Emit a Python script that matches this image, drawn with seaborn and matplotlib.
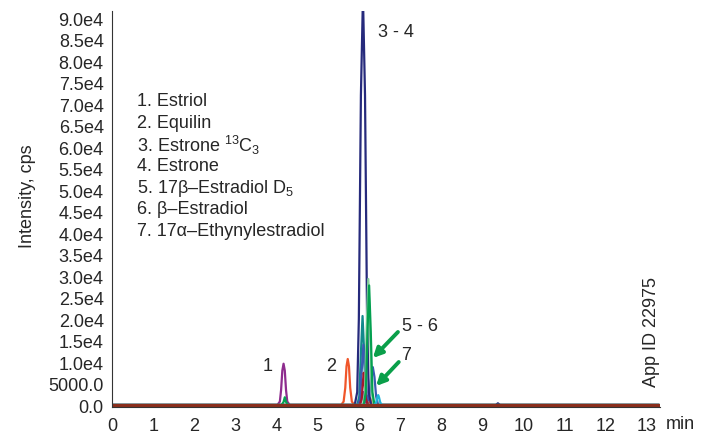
import pandas as pd
import matplotlib
matplotlib.use("Agg")
import matplotlib.pyplot as plt
import seaborn as sns

# chromatogram traces (time in min, intensity in cps)
estriol_t = [0.0, 4.02, 4.08, 4.11, 4.14, 4.17, 4.20, 4.23, 4.26, 4.32, 6.02, 6.07, 6.11, 6.15, 6.20, 13.3]
estriol_i = [0, 0, 800, 3500, 8000, 9600, 8000, 3500, 800, 0, 0, 1200, 3000, 1200, 0, 0]

equilin_t = [0.0, 5.57, 5.63, 5.67, 5.70, 5.73, 5.76, 5.79, 5.83, 5.89, 6.20, 6.25, 6.28, 6.31, 6.36, 13.3]
equilin_i = [0, 0, 800, 4000, 9000, 10700, 9000, 4000, 800, 0, 0, 600, 1500, 600, 0, 0]

teal_t = [0.0, 5.96, 6.01, 6.05, 6.09, 6.13, 6.17, 6.22, 13.3]
teal_i = [0, 0, 2000, 12000, 20700, 12000, 2000, 0, 0]

blue_t = [0.0, 5.98, 6.03, 6.07, 6.11, 6.15, 6.19, 6.22, 6.26, 6.30, 6.34, 6.38, 6.42, 6.47, 13.3]
blue_i = [0, 0, 1500, 8000, 14000, 8000, 2500, 1000, 2500, 6500, 8800, 6500, 2000, 0, 0]

estrone_t = [0.0, 5.90, 5.96, 6.00, 6.05, 6.10, 6.15, 6.20, 6.24, 6.30, 9.33, 9.38, 9.43, 13.3]
estrone_i = [0, 0, 3000, 20000, 72000, 95000, 72000, 20000, 3000, 0, 0, 400, 0, 0]

darkred_t = [0.0, 6.02, 6.07, 6.10, 6.12, 6.14, 6.17, 6.22, 13.3]
darkred_i = [0, 0, 1500, 5500, 7500, 5500, 1500, 0, 0]

d5_t = [0.0, 6.10, 6.15, 6.19, 6.23, 6.27, 6.31, 6.36, 13.3]
d5_i = [0, 0, 3000, 18000, 29300, 18000, 3000, 0, 0]

green_t = [0.0, 4.12, 4.17, 4.20, 4.23, 4.28, 6.12, 6.17, 6.21, 6.25, 6.29, 6.33, 6.38, 13.3]
green_i = [0, 0, 700, 1800, 700, 0, 0, 3000, 17000, 27800, 17000, 3000, 0, 0]

cyan_t = [0.0, 6.38, 6.42, 6.45, 6.47, 6.49, 6.52, 6.56, 13.3]
cyan_i = [0, 0, 600, 1800, 2300, 1800, 600, 0, 0]

base_t = [0.0, 13.3]
base_i = [0, 0]

trace_names = ["estriol", "equilin", "teal", "blue", "estrone", "darkred", "d5", "green", "cyan"]
trace_colors = ["#8E2C8E", "#F0562A", "#12898C", "#3A5BB0", "#262A7C", "#A3172C", "#86CF9C", "#04A050", "#1FB4D8"]

legend_lines = [
    "1. Estriol",
    "2. Equilin",
    "3. Estrone $^{13}$C$_3$",
    "4. Estrone",
    "5. 17\u03b2\u2013Estradiol D$_5$",
    "6. \u03b2\u2013Estradiol",
    "7. 17\u03b1\u2013Ethynylestradiol",
]

y_ticks = list(range(0, 90001, 5000))
y_labels = ["0.0", "5000.0"] + [f"{v / 1e4:.1f}e4" for v in y_ticks[2:]]

sns.set_style("white")
plt.rcParams["font.family"] = ["Liberation Sans", "DejaVu Sans"]
plt.rcParams["mathtext.fontset"] = "custom"
plt.rcParams["mathtext.rm"] = "Liberation Sans"
plt.rcParams["mathtext.it"] = "Liberation Sans"
plt.rcParams["mathtext.bf"] = "Liberation Sans"

traces = {
    "estriol": (estriol_t, estriol_i), "equilin": (equilin_t, equilin_i),
    "teal": (teal_t, teal_i), "blue": (blue_t, blue_i),
    "estrone": (estrone_t, estrone_i), "darkred": (darkred_t, darkred_i),
    "d5": (d5_t, d5_i), "green": (green_t, green_i), "cyan": (cyan_t, cyan_i),
}
frames = []
for name in trace_names:
    t, i = traces[name]
    frames.append(pd.DataFrame({"time": t, "intensity": i, "trace": name}))
df = pd.concat(frames, ignore_index=True)

FS = 13
W, H = 715, 439
fig = plt.figure(figsize=(W / 100, H / 100), dpi=100)
ax = fig.add_axes([112 / W, (H - 408) / H, (660 - 112) / W, (408 - 12) / H])

sns.lineplot(data=df, x="time", y="intensity", hue="trace", hue_order=trace_names,
             palette=trace_colors, estimator=None, sort=False, linewidth=1.6,
             legend=False, ax=ax)
sns.lineplot(x=base_t, y=base_i, color="#8A2E1C", linewidth=2.3, ax=ax)

ax.set_xlim(0, 13.32)
ax.set_ylim(-465, 91640)
ax.set_xticks(range(0, 14))
ax.set_xticks([k + 0.5 for k in range(0, 13)], minor=True)
ax.set_yticks(y_ticks)
ax.set_yticklabels(y_labels)
ax.set_yticks(range(0, 91001, 500), minor=True)
ax.tick_params(axis="both", which="major", labelsize=FS, length=3, width=0.8,
               direction="out", color="#333333")
ax.tick_params(axis="both", which="minor", length=1.6, width=0.6, color="#333333")
ax.tick_params(axis="x", pad=4)
ax.tick_params(axis="y", pad=3)
ax.set_xlabel("")
ax.set_ylabel("")
sns.despine(ax=ax)
for side in ["left", "bottom"]:
    ax.spines[side].set_color("#333333")
    ax.spines[side].set_linewidth(0.8)

# compound list
for k, line in enumerate(legend_lines):
    fig.text(137 / W, 1 - (102 + 21.6 * k) / H, line, fontsize=FS, va="center", ha="left")

# peak labels
ax.text(3.79, 9300, "1", fontsize=FS, ha="center", va="center")
ax.text(5.32, 9300, "2", fontsize=FS, ha="center", va="center")
ax.text(6.46, 86760, "3 - 4", fontsize=FS, ha="left", va="center")
ax.text(7.05, 18380, "5 - 6", fontsize=FS, ha="left", va="center")
ax.text(7.02, 11860, "7", fontsize=FS, ha="left", va="center")

arrow_green = "#0A9F4A"
ax.annotate("", xy=(6.34, 10930), xytext=(6.95, 16980),
            arrowprops=dict(arrowstyle="-|>", color=arrow_green, lw=2.8, mutation_scale=14,
                            shrinkA=0, shrinkB=0))
ax.annotate("", xy=(6.42, 4420), xytext=(6.97, 10000),
            arrowprops=dict(arrowstyle="-|>", color=arrow_green, lw=2.8, mutation_scale=14,
                            shrinkA=0, shrinkB=0))

fig.text(28 / W, 1 - 196 / H, "Intensity, cps", rotation=90, fontsize=FS,
         ha="center", va="center")
fig.text(680 / W, 1 - 425 / H, "min", fontsize=FS, ha="center", va="center")
fig.text(652 / W, 1 - 332 / H, "App ID 22975", rotation=90, fontsize=FS,
         ha="center", va="center")

fig.savefig("out.png", dpi=100)
